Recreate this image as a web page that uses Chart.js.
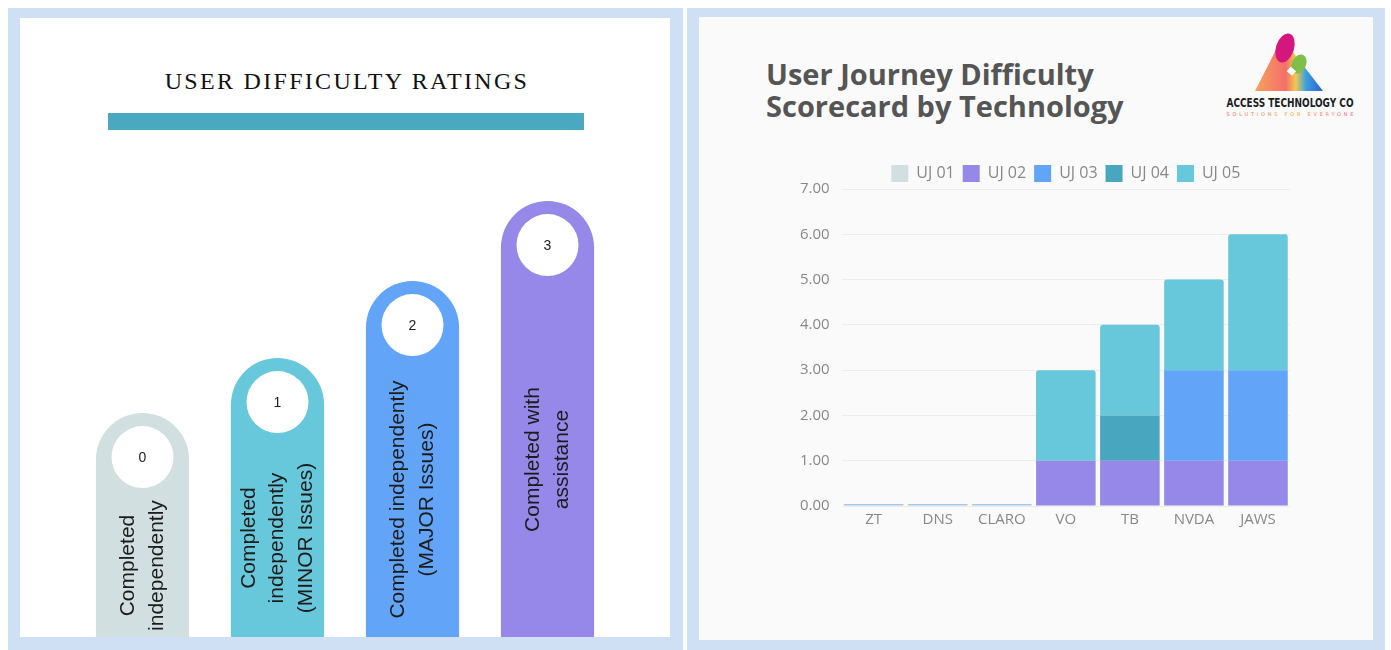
<!DOCTYPE html>
<html>
<head>
<meta charset="utf-8">
<script src="https://cdn.jsdelivr.net/npm/chart.js@4.4.1/dist/chart.umd.min.js"></script>
<style>
  html, body { margin: 0; padding: 0; background: #ffffff; }
  body { width: 1391px; height: 650px; position: relative; overflow: hidden; }
  .frame { position: absolute; background: #cfe0f4; }
  .panel { position: absolute; }
  #leftTitle {
    position: absolute; left: 22px; top: 68px; width: 650px; text-align: center;
    font-family: "Liberation Serif", serif; font-size: 24px; letter-spacing: 2.3px; color: #111;
  }
  #leftRule { position: absolute; left: 108px; top: 113px; width: 476px; height: 17px; background: #4aa8c0; }
  #rightTitle {
    position: absolute; left: 766px; top: 58px;
    font-family: "Open Sans", sans-serif; font-weight: 700; font-size: 29px; line-height: 32px; color: #555;
  }
  .box { position: absolute; }
</style>
</head>
<body>
<div class="frame" style="left:8px; top:8px; width:675px; height:642px;"></div>
<div class="frame" style="left:687px; top:8px; width:698px; height:642px;"></div>
<div class="panel" style="left:20px; top:18px; width:650px; height:619px; background:#ffffff;"></div>
<div class="panel" style="left:699px; top:17px; width:674px; height:623px; background:#fafafa;"></div>

<div id="leftTitle">USER DIFFICULTY RATINGS</div>
<div id="leftRule"></div>
<div class="box" style="left:20px; top:137px; width:650px; height:500px;"><canvas id="ratings"></canvas></div>

<div id="rightTitle">User Journey Difficulty<br>Scorecard by Technology</div>

<svg class="box" style="left:1215px; top:30px;" width="150" height="92" viewBox="0 0 150 92">
  <defs>
    <linearGradient id="triGrad" x1="0" y1="0" x2="1" y2="0">
      <stop offset="0" stop-color="#f7a15a"/>
      <stop offset="0.45" stop-color="#f46f6a"/>
      <stop offset="0.6" stop-color="#f2c94c"/>
      <stop offset="0.75" stop-color="#3aa0e0"/>
      <stop offset="1" stop-color="#2f5fd0"/>
    </linearGradient>
    <linearGradient id="tagGrad" x1="0" y1="0" x2="1" y2="0">
      <stop offset="0" stop-color="#f06a5a"/>
      <stop offset="0.5" stop-color="#f5a040"/>
      <stop offset="1" stop-color="#f06a8a"/>
    </linearGradient>
  </defs>
  <polygon points="67,8 40,61 108,61" fill="url(#triGrad)"/>
  <ellipse cx="70" cy="18" rx="9" ry="15" transform="rotate(18 70 18)" fill="#d3177c"/>
  <ellipse cx="84" cy="34" rx="7" ry="10" transform="rotate(25 84 34)" fill="#7dbf48"/>
  <rect x="73" y="38" width="7" height="6" transform="rotate(40 76 41)" fill="#ffffff"/>
  <text x="75" y="77" text-anchor="middle" font-family="DejaVu Sans Condensed, sans-serif" font-weight="700" font-size="11.5" fill="#1e1e1e" textLength="127" lengthAdjust="spacingAndGlyphs">ACCESS TECHNOLOGY CO</text>
  <text x="75" y="86" text-anchor="middle" font-family="DejaVu Sans, sans-serif" font-size="5" fill="url(#tagGrad)" textLength="127" lengthAdjust="spacing">SOLUTIONS FOR EVERYONE</text>
</svg>

<div class="box" style="left:780px; top:157px; width:562px; height:377px;"><canvas id="scorecard"></canvas></div>

<script>
// ---- left panel: difficulty rating scale ----
var ratingNumbers = ['0', '1', '2', '3'];
var ratingLabels = [
    ['Completed', 'independently'],
    ['Completed', 'independently', '(MINOR Issues)'],
    ['Completed independently', '(MAJOR Issues)'],
    ['Completed with', 'assistance']
];
var ratingHeights = [2.24, 2.79, 3.56, 4.36];
var ratingColors = ['#d2dfe1', '#67c7db', '#62a4f8', '#9588e8'];

// ---- right panel: scorecard ----
var technologies = ['ZT', 'DNS', 'CLARO', 'VO', 'TB', 'NVDA', 'JAWS'];
var journeyNames = ['UJ 01', 'UJ 02', 'UJ 03', 'UJ 04', 'UJ 05'];
var uj01 = [0, 0, 0, 0, 0, 0, 0];
var uj02 = [0, 0, 0, 1, 1, 1, 1];
var uj03 = [0, 0, 0, null, null, 2, 2];
var uj04 = [0, 0, 0, 0, 1, 0, 0];
var uj05 = [0, 0, 0, 2, 2, 2, 3];
var journeyColors = ['#d2dfe1', '#9588e8', '#62a4f8', '#48a6bf', '#67c7db'];
var zeroColor = '#a6c7e8';
var yTicks = [0, 1, 2, 3, 4, 5, 6, 7];

var pillDecor = {
    id: 'pillDecor',
    afterDatasetsDraw: function( chart ) {
        var ctx = chart.ctx;
        var bottom = chart.chartArea.bottom;
        chart.getDatasetMeta( 0 ).data.forEach( function( bar, i ) {
            var half = bar.width / 2;
            var cy = bar.y + half - 2.5;
            var r = 31;
            ctx.save();
            ctx.fillStyle = '#ffffff';
            ctx.beginPath();
            ctx.arc( bar.x, cy, r, 0, Math.PI * 2 );
            ctx.fill();
            ctx.fillStyle = '#222';
            ctx.font = '14px "Liberation Sans", Arial, sans-serif';
            ctx.textAlign = 'center';
            ctx.textBaseline = 'middle';
            ctx.fillText( ratingNumbers[ i ], bar.x, cy + 1 );

            var lines = ratingLabels[ i ];
            var mid = ( cy + r + bottom ) / 2 + 3;
            ctx.translate( bar.x, mid );
            ctx.rotate( -Math.PI / 2 );
            ctx.font = '21px "Liberation Sans", Arial, sans-serif';
            ctx.fillStyle = '#1c1c1c';
            lines.forEach( function( line, j ) {
                ctx.fillText( line, 0, ( j - ( lines.length - 1 ) / 2 ) * 28.5 );
            });
            ctx.restore();
        });
    }
};

new Chart( document.getElementById( 'ratings' ), {
    type: 'bar',
    data: {
        labels: ratingNumbers,
        datasets: [{
            data: ratingHeights,
            backgroundColor: ratingColors,
            borderRadius: { topLeft: 60, topRight: 60, bottomLeft: 0, bottomRight: 0 },
            borderSkipped: 'bottom',
            barPercentage: 0.69,
            categoryPercentage: 1
        }]
    },
    options: {
        responsive: true,
        maintainAspectRatio: false,
        animation: false,
        layout: { padding: { left: 55, right: 55, top: 0, bottom: 0 } },
        plugins: { legend: { display: false }, tooltip: { enabled: false } },
        scales: {
            x: { display: false },
            y: { display: false, min: 0, max: 5 }
        }
    },
    plugins: [ pillDecor ]
});

var journeySeries = [ uj01, uj02, uj03, uj04, uj05 ];
var datasets = journeySeries.map( function( values, k ) {
    var ds = {
        label: journeyNames[ k ],
        data: values,
        backgroundColor: journeyColors[ k ],
        barPercentage: 0.93,
        categoryPercentage: 1
    };
    if ( k === 2 ) {
        // the empty technologies show a hairline bar at zero
        ds.minBarLength = 2;
        ds.borderRadius = 2;
        ds.backgroundColor = values.map( function( v ) { return v ? journeyColors[ 2 ] : zeroColor; } );
    }
    if ( k === 4 ) {
        ds.borderRadius = { topLeft: 3, topRight: 3, bottomLeft: 0, bottomRight: 0 };
        ds.borderSkipped = false;
    }
    return ds;
});

// legend sits centred over the plot area, and a little tighter to it
var legendTweak = {
    id: 'legendTweak',
    afterInit: function( chart ) {
        var legend = chart.legend;
        var fit = legend.fit;
        legend.fit = function() {
            fit.call( this );
            this.height -= 3;
        };
    },
    afterLayout: function( chart ) {
        chart.legend.left = chart.chartArea.left;
        chart.legend.right = chart.chartArea.right;
    }
};

Chart.defaults.font.family = '"Open Sans", sans-serif';
Chart.defaults.color = '#888';

new Chart( document.getElementById( 'scorecard' ), {
    type: 'bar',
    data: { labels: technologies, datasets: datasets },
    options: {
        responsive: true,
        maintainAspectRatio: false,
        animation: false,
        layout: { padding: { left: 8, right: 52, top: 0, bottom: 0 } },
        plugins: {
            tooltip: { enabled: false },
            legend: {
                position: 'top',
                labels: {
                    boxWidth: 17, boxHeight: 17, padding: 8, font: { size: 16 }, color: '#888',
                    generateLabels: function( chart ) {
                        return Chart.defaults.plugins.legend.labels.generateLabels( chart ).map( function( item, i ) {
                            item.fillStyle = journeyColors[ i ];
                            item.strokeStyle = journeyColors[ i ];
                            item.lineWidth = 0;
                            return item;
                        });
                    }
                }
            }
        },
        scales: {
            x: {
                stacked: true,
                grid: { display: false, drawTicks: false },
                border: { display: false },
                ticks: { font: { size: 15 }, color: '#888', padding: 5 }
            },
            y: {
                stacked: true,
                min: 0,
                max: 7,
                afterBuildTicks: function( axis ) {
                    axis.ticks = yTicks.map( function( v ) { return { value: v }; } );
                },
                grid: { color: '#ececec', drawTicks: false },
                border: { display: false },
                ticks: {
                    font: { size: 15 }, color: '#888', padding: 12,
                    callback: function( v ) { return Number( v ).toFixed( 2 ); }
                }
            }
        }
    },
    plugins: [ legendTweak ]
});
</script>
</body>
</html>
